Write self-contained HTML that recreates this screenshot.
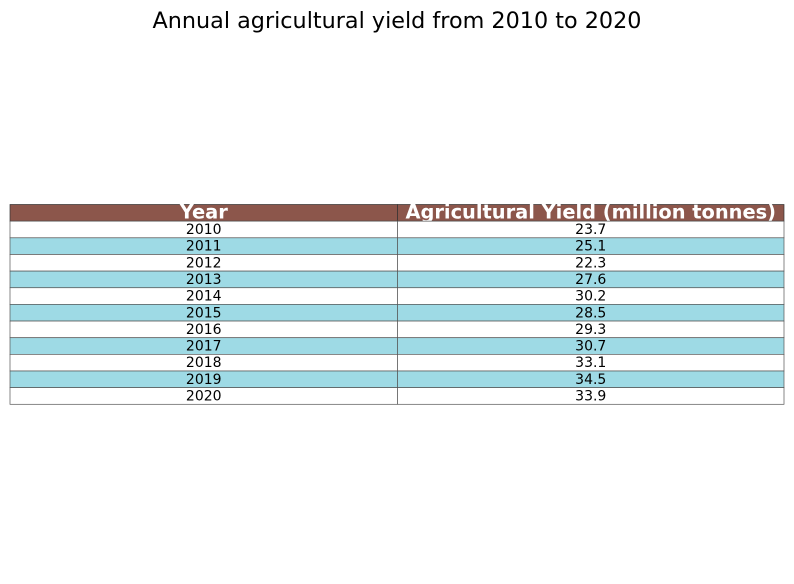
<!DOCTYPE html>
<html><head><meta charset="utf-8"><style>
body{margin:0;background:#fff;width:794px;height:584px;overflow:hidden}
svg{display:block;font-family:"DejaVu Sans","Liberation Sans",sans-serif}
</style></head><body>
<svg id="chart" width="794" height="584" xmlns="http://www.w3.org/2000/svg">
<text x="397" y="28" text-anchor="middle" font-size="22.3" fill="#000">Annual agricultural yield from 2010 to 2020</text>
<g id="tbl"></g>
</svg>
<script>
const headers = ["Year", "Agricultural Yield (million tonnes)"];
const years = ["2010","2011","2012","2013","2014","2015","2016","2017","2018","2019","2020"];
const yields = ["23.7","25.1","22.3","27.6","30.2","28.5","29.3","30.7","33.1","34.5","33.9"];
const NS="http://www.w3.org/2000/svg";
const g=document.getElementById('tbl');
const x0=10,x1=397.5,x2=784,top0=204.5,rh=16.65;
function mk(t,a){const e=document.createElementNS(NS,t);for(const k in a)e.setAttribute(k,a[k]);g.appendChild(e);return e;}
for(let c=0;c<2;c++){
  const xs=c?x1:x0, w=c?x2-x1:x1-x0;
  const r=mk('rect',{x:xs,y:top0,width:w,height:rh,fill:'#8c564b',stroke:'#333','stroke-width':0.7});
  
  
  const t=mk('text',{x:xs+w/2,y:top0+rh-2.5,'text-anchor':'middle','font-size':19.4,'font-weight':'bold',fill:'#fff'});
  t.textContent=headers[c];
  
  
}
years.forEach((yr,i)=>{
  const y=top0+rh*(i+1);
  const fill=i%2?'#9edae5':'#fff';
  [yr,yields[i]].forEach((v,c)=>{
    const xs=c?x1:x0, w=c?x2-x1:x1-x0;
    const r=mk('rect',{x:xs,y:y,width:w,height:rh,fill:fill,stroke:'#555','stroke-width':0.7});
    
    
    const t=mk('text',{x:xs+w/2,y:y+rh-3.8,'text-anchor':'middle','font-size':14,fill:'#000'});
    t.textContent=v;
    
    
  });
});
</script>
</body></html>
